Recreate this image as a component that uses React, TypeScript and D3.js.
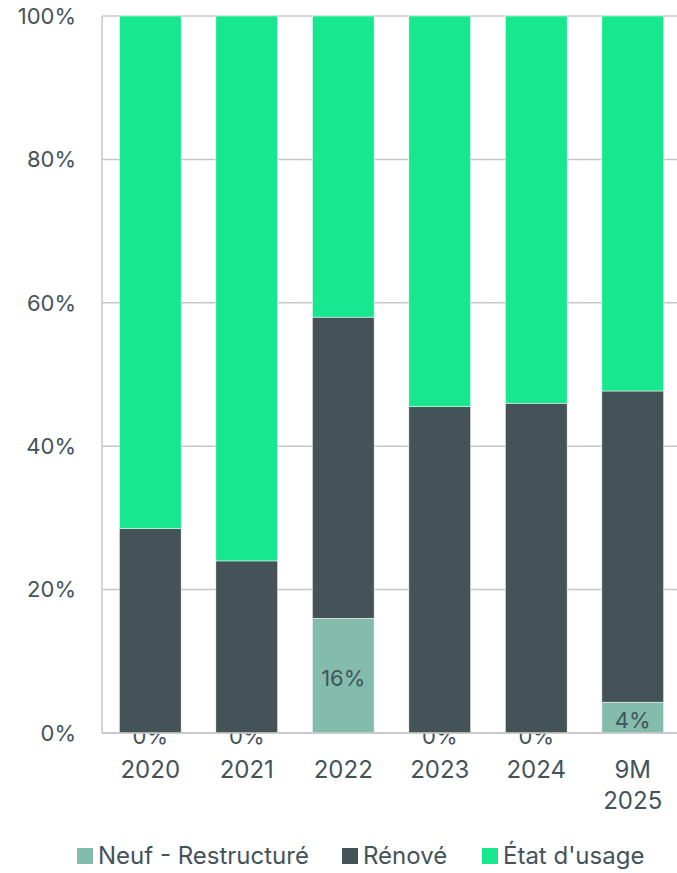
import { useEffect, useRef } from "react";
import * as d3 from "d3";

const categories = ["2020", "2021", "2022", "2023", "2024", "9M\n2025"];
const neuf = [0, 0, 16, 0, 0, 4.3];
const renove = [28.5, 24, 42, 45.5, 46, 43.4];
const etat = [71.5, 76, 42, 54.5, 54, 52.3];
const yTicks = [0, 20, 40, 60, 80, 100];

const seriesNames = ["Neuf - Restructuré", "Rénové", "État d'usage"];
const colors = ["#83bcad", "#435357", "#17e88f"];

const W = 677;
const H = 873;
const FONT = "Inter, 'DejaVu Sans', sans-serif";
const TEXT = "#44535a";

export default function App() {
  const svgRef = useRef<SVGSVGElement>(null);

  useEffect(() => {
    if (!svgRef.current) return;
    const svg = d3.select(svgRef.current);
    svg.selectAll("*").remove();

    const left = 102;
    const top = 16;
    const bottom = 733;

    const x = d3
      .scaleBand<string>()
      .domain(categories)
      .range([left, 681])
      .paddingInner(0.36)
      .paddingOuter(0.18);
    const y = d3.scaleLinear().domain([0, 100]).range([bottom, top]);

    // grid
    svg
      .append("g")
      .selectAll("line")
      .data(yTicks)
      .join("line")
      .attr("x1", left)
      .attr("x2", W)
      .attr("y1", (d) => y(d))
      .attr("y2", (d) => y(d))
      .attr("stroke", "#c6c6c6")
      .attr("stroke-width", 1.5);

    svg
      .append("line")
      .attr("x1", left)
      .attr("x2", left)
      .attr("y1", top)
      .attr("y2", bottom)
      .attr("stroke", "#c6c6c6")
      .attr("stroke-width", 1.5);

    // y tick labels
    svg
      .append("g")
      .selectAll("text")
      .data(yTicks)
      .join("text")
      .attr("x", 76)
      .attr("y", (d) => y(d))
      .attr("dy", "0.35em")
      .attr("text-anchor", "end")
      .attr("font-family", FONT)
      .attr("font-size", 22)
      .attr("fill", TEXT)
      .text((d) => `${d}%`);

    const rows = categories.map((c, i) => ({ cat: c, v: [neuf[i], renove[i], etat[i]] }));

    [0, 1, 2].forEach((s) => {
      svg
        .append("g")
        .selectAll("rect")
        .data(rows)
        .join("rect")
        .attr("x", (d) => x(d.cat)!)
        .attr("width", x.bandwidth())
        .attr("y", (d) => y(d3.sum(d.v.slice(0, s + 1))))
        .attr("height", (d) => y(d3.sum(d.v.slice(0, s))) - y(d3.sum(d.v.slice(0, s + 1))))
        .attr("fill", colors[s])
        .attr("stroke", "#ffffff")
        .attr("stroke-width", 0.5);

      if (s === 0) {
        // labels drawn under the next series, so the 0% ones are half hidden
        svg
          .append("g")
          .selectAll("text")
          .data(rows)
          .join("text")
          .attr("x", (d) => x(d.cat)! + x.bandwidth() / 2)
          .attr("y", (d) => y(d.v[0] / 2) + 3)
          .attr("dy", "0.35em")
          .attr("text-anchor", "middle")
          .attr("font-family", FONT)
          .attr("font-size", 22)
          .attr("fill", TEXT)
          .text((d) => `${Math.round(d.v[0])}%`);
      }
    });

    // bottom axis line
    svg
      .append("line")
      .attr("x1", left)
      .attr("x2", W)
      .attr("y1", bottom)
      .attr("y2", bottom)
      .attr("stroke", "#c6c6c6")
      .attr("stroke-width", 1.5);

    // x labels
    const xl = svg
      .append("g")
      .selectAll("text")
      .data(categories)
      .join("text")
      .attr("x", (d) => x(d)! + x.bandwidth() / 2)
      .attr("y", 770)
      .attr("text-anchor", "middle")
      .attr("font-family", FONT)
      .attr("font-size", 24)
      .attr("fill", TEXT);
    xl.each(function (d) {
      const t = d3.select(this);
      d.split("\n").forEach((line, i) => {
        t.append("tspan")
          .attr("x", x(d)! + x.bandwidth() / 2)
          .attr("dy", i === 0 ? "0.35em" : 31)
          .text(line);
      });
    });

    // legend
    const legendX = [77, 342, 482];
    const lg = svg
      .append("g")
      .selectAll("g")
      .data(seriesNames)
      .join("g")
      .attr("transform", (_, i) => `translate(${legendX[i]},856)`);
    lg.append("rect")
      .attr("x", 0)
      .attr("y", -8)
      .attr("width", 16)
      .attr("height", 16)
      .attr("fill", (_, i) => colors[i]);
    lg.append("text")
      .attr("x", 21)
      .attr("y", 0)
      .attr("dy", "0.35em")
      .attr("font-family", FONT)
      .attr("font-size", 24)
      .attr("fill", TEXT)
      .text((d) => d);
  }, []);

  return (
    <svg
      ref={svgRef}
      width={W}
      height={H}
      style={{ position: "absolute", left: 0, top: 0, background: "#fff" }}
    />
  );
}
